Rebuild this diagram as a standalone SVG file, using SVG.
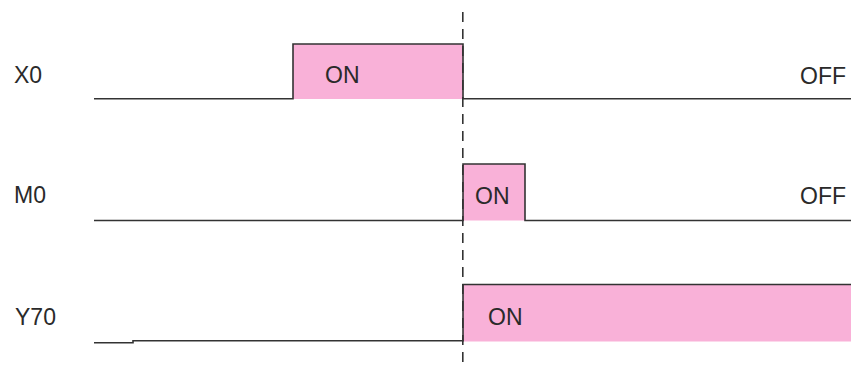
<svg xmlns="http://www.w3.org/2000/svg" width="851" height="368" viewBox="0 0 851 368">
<style>
.sig{fill:none;stroke:#333;stroke-width:1.6}
.on{fill:#f9b1d8;stroke:none}
.t{font-family:"Liberation Sans",Arial,sans-serif;font-size:23px;fill:#2a2a2a}
.dash{stroke:#333;stroke-width:1.6;stroke-dasharray:10 7;fill:none}
</style>
<rect width="851" height="368" fill="#fff"/>
<g id="X0">
<rect class="on" x="293" y="44" width="170" height="55"/>
<polyline class="sig" points="94,98.7 293,98.7 293,44 463,44 463,98.7 851,98.7"/>
<text class="t" x="14" y="83">X0</text>
<text class="t" x="325" y="83">ON</text>
<text class="t" x="846" y="84" text-anchor="end">OFF</text>
</g>
<g id="M0">
<rect class="on" x="463" y="164" width="62" height="56.5"/>
<polyline class="sig" points="94,220.5 463,220.5 463,164 525,164 525,220.5 851,220.5"/>
<text class="t" x="14" y="203">M0</text>
<text class="t" x="475" y="204">ON</text>
<text class="t" x="846" y="204" text-anchor="end">OFF</text>
</g>
<g id="Y70">
<rect class="on" x="463" y="284.5" width="388" height="57"/>
<polyline class="sig" points="94,342.7 133,342.7 133,340.7 463,340.7 463,284.5 851,284.5"/>
<text class="t" x="15" y="325">Y70</text>
<text class="t" x="488" y="325">ON</text>
</g>
<g id="connectors">
<line class="dash" x1="462.8" y1="12" x2="462.8" y2="368"/>
</g>
</svg>
